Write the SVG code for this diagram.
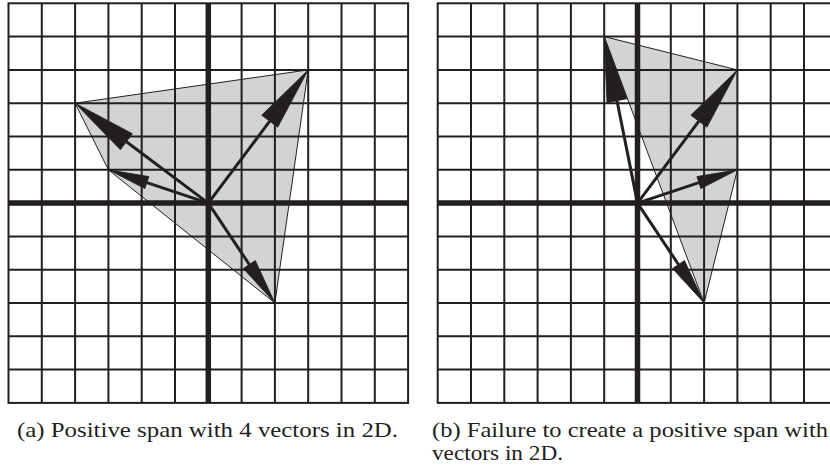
<svg xmlns="http://www.w3.org/2000/svg" width="830" height="469" viewBox="0 0 830 469">
<style>
.bg{fill:#ffffff}
.hull{fill:#d1d3d4;stroke:#231f20;stroke-width:1;stroke-linejoin:miter}
.grid{fill:none;stroke:#231f20;stroke-width:2}
.axis{fill:none;stroke:#231f20;stroke-width:5.5}
.shaft{stroke:#231f20;stroke-width:3;fill:none}
.head{fill:#231f20;stroke:#231f20;stroke-width:0.8;stroke-linejoin:miter}
.cap{font-family:"Liberation Serif","DejaVu Serif",serif;font-size:22px;fill:#231f20}
</style>
<rect class="bg" x="0" y="0" width="830" height="469"/>

<g id="panel-a">
  <polygon class="hull" points="75.1,103.2 308.2,69.9 274.9,303.0 108.4,169.8"/>
  <path class="grid" d="M41.8,3.3V402.9M75.1,3.3V402.9M108.4,3.3V402.9M141.7,3.3V402.9M175,3.3V402.9M241.6,3.3V402.9M274.9,3.3V402.9M308.2,3.3V402.9M341.5,3.3V402.9M374.8,3.3V402.9
  M8.5,36.6H408.1M8.5,69.9H408.1M8.5,103.2H408.1M8.5,136.5H408.1M8.5,169.8H408.1M8.5,236.4H408.1M8.5,269.7H408.1M8.5,303H408.1M8.5,336.3H408.1M8.5,369.6H408.1"/>
  <rect class="grid" x="8.5" y="3.3" width="399.6" height="399.6"/>
  <path class="axis" d="M208.3,3.3V402.9M8.5,203.1H408.1"/>
</g>

<g id="panel-b">
  <polygon class="hull" points="604.2,36.6 737.4,69.9 737.4,169.8 704.1,303.0"/>
  <path class="grid" d="M471,3.3V402.9M504.3,3.3V402.9M537.6,3.3V402.9M570.9,3.3V402.9M604.2,3.3V402.9M670.8,3.3V402.9M704.1,3.3V402.9M737.4,3.3V402.9M770.7,3.3V402.9M804,3.3V402.9
  M437.7,36.6H840M437.7,69.9H840M437.7,103.2H840M437.7,136.5H840M437.7,169.8H840M437.7,236.4H840M437.7,269.7H840M437.7,303H840M437.7,336.3H840M437.7,369.6H840"/>
  <rect class="grid" x="437.7" y="3.3" width="399.6" height="399.6"/>
  <path class="axis" d="M637.5,3.3V402.9M437.7,203.1H840"/>
</g>

<g id="vectors">
  <g id="vec-a1"><line class="shaft" x1="208.3" y1="203.1" x2="126.4" y2="141.7"/><polygon class="head" points="75.1,103.2 132.4,133.7 120.4,149.7"/></g>
  <g id="vec-a2"><line class="shaft" x1="208.3" y1="203.1" x2="269.7" y2="121.2"/><polygon class="head" points="308.2,69.9 277.7,127.2 261.7,115.2"/></g>
  <g id="vec-a3"><line class="shaft" x1="208.3" y1="203.1" x2="146.9" y2="182.6"/><polygon class="head" points="108.4,169.8 148.9,176.6 144.9,188.6"/></g>
  <g id="vec-a4"><line class="shaft" x1="208.3" y1="203.1" x2="249.3" y2="264.5"/><polygon class="head" points="274.9,303.0 243.3,268.5 255.3,260.5"/></g>
  <g id="vec-b1"><line class="shaft" x1="637.5" y1="203.1" x2="617.0" y2="100.7"/><polygon class="head" points="604.2,36.6 627.0,98.7 607.0,102.7"/></g>
  <g id="vec-b2"><line class="shaft" x1="637.5" y1="203.1" x2="698.9" y2="121.2"/><polygon class="head" points="737.4,69.9 706.9,127.2 690.9,115.2"/></g>
  <g id="vec-b3"><line class="shaft" x1="637.5" y1="203.1" x2="698.9" y2="182.6"/><polygon class="head" points="737.4,169.8 700.9,188.6 696.9,176.6"/></g>
  <g id="vec-b4"><line class="shaft" x1="637.5" y1="203.1" x2="678.5" y2="264.5"/><polygon class="head" points="704.1,303.0 672.5,268.5 684.5,260.5"/></g>
</g>

<g id="captions">
  <text class="cap" x="17" y="437" textLength="381" lengthAdjust="spacingAndGlyphs">(a) Positive span with 4 vectors in 2D.</text>
  <text class="cap" x="432" y="437" textLength="396" lengthAdjust="spacingAndGlyphs">(b) Failure to create a positive span with</text>
  <text class="cap" x="432" y="460" textLength="131" lengthAdjust="spacingAndGlyphs">vectors in 2D.</text>
</g>
</svg>
